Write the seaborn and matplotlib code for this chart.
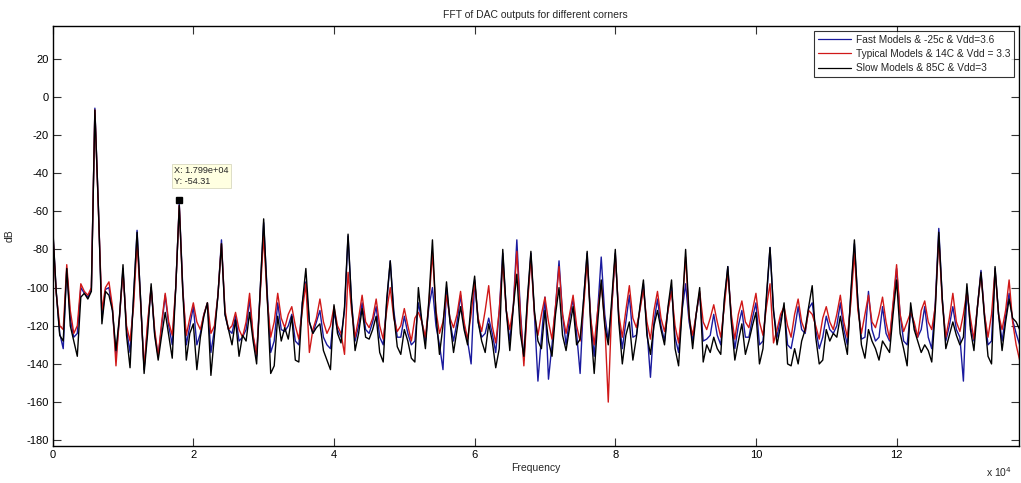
import numpy as np
import pandas as pd
import matplotlib
matplotlib.use("Agg")
import matplotlib.pyplot as plt
import seaborn as sns

# FFT bin grid (Hz), 500 Hz spacing
FREQ_STEP = 500
SERIES_NAMES = ["Fast Models & -25c & Vdd=3.6",
                "Typical Models & 14C & Vdd = 3.3",
                "Slow Models & 85C & Vdd=3"]
SERIES_COLORS = ["#1a1a9e", "#d01818", "#000000"]

# dB values (4 bins per 2 kHz)
fast_db = [
    -69, -102, -124, -132,  -90, -116, -126, -124,  -100, -103, -105, -101,  -6, -58, -116, -101,
    -100, -112, -136, -116,  -90, -122, -134, -106,  -70, -106, -143, -120,  -100, -124, -136, -120,
    -104, -120, -130, -100,  -56, -100, -130, -120,  -110, -130, -124, -114,  -108, -134, -122, -104,
    -75, -114, -122, -124,  -115, -128, -126, -122,  -106, -126, -136, -102,  -66, -102, -134, -128,
    -108, -122, -123, -120,  -114, -128, -130, -108,  -97, -118, -124, -118,  -112, -126, -130, -132,
    -113, -122, -126, -112,  -73, -108, -128, -120,  -108, -122, -124, -118,  -110, -126, -130, -108,
    -86, -112, -126, -126,  -115, -124, -130, -128,  -108, -118, -128, -110,  -100, -120, -130, -143,
    -100, -118, -128, -118,  -104, -120, -128, -140,  -96, -118, -126, -124,  -116, -124, -134, -112,
    -82, -112, -128, -110,  -75, -112, -138, -108,  -82, -114, -149, -126,  -105, -148, -130, -110,
    -86, -114, -130, -116,  -106, -124, -145, -106,  -82, -116, -136, -112,  -84, -114, -128, -110,
    -82, -116, -132, -118,  -104, -126, -125, -111,  -98, -122, -147, -118,  -106, -120, -128, -111,
    -100, -126, -134, -112,  -98, -118, -128, -114,  -103, -128, -127, -125,  -114, -125, -130, -108,
    -89, -116, -132, -120,  -112, -126, -126, -116,  -108, -130, -128, -106,  -79, -112, -126, -116,
    -110, -130, -132, -122,  -110, -122, -124, -111,  -108, -122, -132, -126,  -115, -122, -124, -120,
    -108, -122, -130, -104,  -77, -108, -127, -126,  -102, -122, -128, -126,  -110, -124, -128, -110,
    -90, -114, -128, -130,  -112, -120, -126, -122,  -110, -126, -132, -108,  -69, -106, -128, -120,
    -110, -122, -126, -149,  -100, -120, -128, -110,  -91, -114, -130, -128,  -90, -114, -128, -115,
    -103, -117, -124, -130,
]

typical_db = [
    -70, -103, -120, -122,  -88, -112, -124, -120,  -98, -102, -104, -100,  -7, -60, -112, -100,
    -97, -110, -141, -115,  -92, -120, -128, -110,  -76, -108, -142, -118,  -100, -122, -136, -118,
    -103, -118, -125, -100,  -57, -102, -125, -116,  -108, -118, -122, -114,  -108, -124, -120, -104,
    -77, -112, -122, -120,  -113, -122, -126, -118,  -103, -125, -135, -104,  -73, -106, -126, -118,
    -103, -116, -121, -114,  -110, -120, -127, -112,  -98, -134, -122, -116,  -106, -118, -124, -120,
    -110, -120, -124, -135,  -92, -112, -126, -116,  -104, -118, -121, -116,  -106, -120, -127, -112,
    -100, -116, -123, -120,  -111, -120, -128, -116,  -113, -118, -126, -108,  -82, -112, -124, -118,
    -104, -116, -121, -114,  -102, -118, -127, -114,  -97, -116, -123, -112,  -99, -120, -129, -112,
    -87, -112, -122, -110,  -81, -114, -141, -110,  -84, -114, -125, -114,  -105, -118, -127, -110,
    -89, -114, -124, -114,  -104, -120, -128, -110,  -86, -116, -130, -112,  -98, -118, -160, -110,
    -83, -114, -126, -112,  -99, -116, -121, -112,  -101, -118, -127, -112,  -102, -116, -123, -112,
    -102, -120, -129, -110,  -84, -116, -125, -114,  -102, -118, -122, -116,  -109, -118, -126, -110,
    -92, -114, -127, -114,  -107, -118, -121, -112,  -103, -118, -125, -110,  -98, -129, -122, -114,
    -110, -120, -126, -114,  -106, -118, -123, -112,  -114, -120, -127, -116,  -110, -118, -122, -114,
    -104, -118, -126, -108,  -82, -112, -124, -114,  -104, -118, -121, -114,  -105, -118, -127, -108,
    -88, -114, -123, -118,  -113, -118, -126, -112,  -107, -118, -122, -110,  -74, -108, -126, -116,
    -103, -118, -123, -114,  -102, -116, -127, -110,  -93, -114, -126, -114,  -91, -114, -122, -112,
    -96, -118, -130, -138,
]

slow_db = [
    -68, -102, -125, -128,  -90, -120, -128, -136,  -105, -103, -106, -102,  -7, -58, -119, -102,
    -104, -112, -133, -115,  -88, -125, -142, -104,  -71, -106, -145, -124,  -98, -125, -138, -125,
    -113, -125, -137, -100,  -57, -102, -138, -124,  -119, -143, -126, -115,  -108, -146, -125, -104,
    -77, -114, -122, -130,  -117, -136, -125, -128,  -113, -128, -140, -102,  -64, -104, -145, -141,
    -115, -128, -121, -127,  -115, -138, -139, -108,  -90, -118, -124, -121,  -119, -133, -138, -143,
    -109, -124, -129, -110,  -72, -108, -133, -124,  -111, -126, -127, -122,  -115, -134, -139, -106,
    -86, -114, -131, -135,  -122, -128, -137, -139,  -100, -118, -132, -106,  -75, -114, -135, -120,
    -97, -118, -134, -122,  -110, -122, -130, -108,  -94, -118, -128, -134,  -119, -128, -142, -132,
    -80, -112, -133, -110,  -93, -124, -136, -106,  -81, -112, -128, -132,  -112, -128, -136, -114,
    -100, -125, -133, -121,  -110, -130, -127, -106,  -81, -120, -145, -118,  -96, -120, -130, -106,
    -80, -118, -140, -125,  -118, -138, -126, -110,  -96, -125, -135, -120,  -112, -122, -130, -110,
    -96, -132, -141, -112,  -80, -114, -132, -114,  -100, -139, -130, -134,  -126, -132, -135, -106,
    -89, -118, -138, -128,  -119, -135, -128, -120,  -113, -140, -132, -104,  -79, -112, -130, -120,
    -108, -140, -141, -132,  -140, -128, -122, -110,  -99, -126, -140, -138,  -122, -128, -124, -126,
    -115, -126, -135, -102,  -75, -108, -130, -137,  -122, -128, -132, -138,  -128, -131, -134, -114,
    -96, -124, -132, -141,  -108, -122, -128, -134,  -130, -133, -139, -112,  -71, -106, -132, -125,
    -118, -125, -130, -126,  -98, -122, -133, -110,  -92, -116, -136, -140,  -89, -114, -133, -118,
    -106, -116, -118, -122,
]

x_ticks = [0, 20000, 40000, 60000, 80000, 100000, 120000]
x_tick_labels = ["0", "2", "4", "6", "8", "10", "12"]
y_ticks = [-180, -160, -140, -120, -100, -80, -60, -40, -20, 0, 20]
tip_x, tip_y = 17990, -54.31

freq = np.arange(len(slow_db)) * FREQ_STEP
df = pd.concat([
    pd.DataFrame({"freq": freq, "dB": vals, "series": name})
    for name, vals in zip(SERIES_NAMES, [fast_db, typical_db, slow_db])
], ignore_index=True)

sns.set_style("ticks")
plt.rcParams["font.family"] = ["Liberation Sans", "DejaVu Sans"]
plt.rcParams["axes.unicode_minus"] = False

fig = plt.figure(figsize=(10.21, 4.83), dpi=100)
ax = fig.add_axes([0.0516, 0.0766, 0.9464, 0.8694])

sns.lineplot(data=df, x="freq", y="dB", hue="series", hue_order=SERIES_NAMES,
             palette=SERIES_COLORS, estimator=None, sort=False, linewidth=1.0,
             ax=ax, legend=True)

ax.set_xlim(0, 137400)
ax.set_ylim(-183, 37)
ax.set_xticks(x_ticks)
ax.set_xticklabels(x_tick_labels)
ax.set_yticks(y_ticks)
ax.tick_params(direction="in", length=6, width=0.8, top=True, right=True,
               labelsize=8, colors="#333333", labelcolor="black", pad=3)
for s in ax.spines.values():
    s.set_visible(True)
    s.set_linewidth(1.0)
    s.set_color("black")

ax.set_title("FFT of DAC outputs for different corners", fontsize=7.5, pad=6)
ax.set_xlabel("Frequency", fontsize=7.5, labelpad=2)
ax.set_ylabel("dB", fontsize=7.5, labelpad=8)

leg = ax.legend(loc="upper right", fontsize=7.3, frameon=True, fancybox=False,
                edgecolor="black", borderaxespad=0.45, handlelength=3.2,
                labelspacing=0.42, borderpad=0.4, handletextpad=0.5)
leg.get_frame().set_linewidth(0.8)
for line in leg.get_lines():
    line.set_linewidth(0.9)

# data tip
ax.plot([tip_x], [tip_y], marker="s", color="black", markersize=4.5, linestyle="none")
ax.text(tip_x - 700, tip_y + 7.5, f"X: {tip_x/1e4:.3f}e+04\nY: {tip_y:.2f}     ", fontsize=6.6,
        va="bottom", ha="left", linespacing=1.25,
        bbox=dict(boxstyle="square,pad=0.25", facecolor="#ffffe1", edgecolor="#d8d8c0", linewidth=0.6))

fig.text(0.966, 0.008, r"x 10$^{4}$", fontsize=7.5, ha="left", va="bottom")

fig.savefig("out.png", dpi=100)
